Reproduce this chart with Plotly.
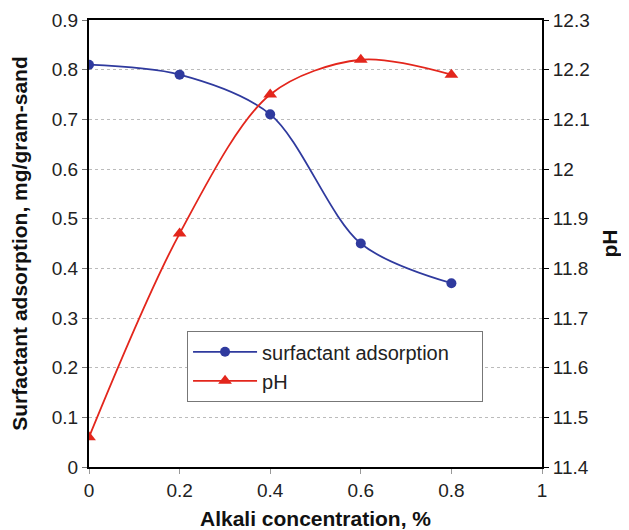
import plotly.graph_objects as go

alkali = [0, 0.2, 0.4, 0.6, 0.8]
adsorption = [0.81, 0.79, 0.71, 0.45, 0.37]
ph = [11.46, 11.87, 12.15, 12.22, 12.19]

blue = "#2f3a9e"
red = "#e3261c"

fig = go.Figure()
fig.add_trace(go.Scatter(
    x=alkali, y=adsorption, name="surfactant adsorption" + "\u00a0" * 5,
    mode="lines+markers", line=dict(color=blue, width=1.8, shape="spline", smoothing=0.9),
    marker=dict(symbol="circle", size=10, color=blue),
))
fig.add_trace(go.Scatter(
    x=alkali, y=ph, name="pH", yaxis="y2",
    mode="lines+markers", line=dict(color=red, width=1.8, shape="spline", smoothing=0.9),
    marker=dict(symbol="triangle-up", size=12, color=red),
))

tickfont = dict(family="Liberation Sans, Arial", size=19, color="#222")
titlefont = dict(family="Liberation Sans, Arial", size=21, color="#111", weight="bold")

fig.update_layout(
    width=621, height=522,
    margin=dict(l=81, r=87, t=12, b=63, autoexpand=False),
    paper_bgcolor="white", plot_bgcolor="white",
    showlegend=True,
    legend=dict(
        x=0.216, y=0.304, xanchor="left", yanchor="top",
        bordercolor="#777", borderwidth=1.2, bgcolor="white",
        font=dict(family="Liberation Sans, Arial", size=20, color="#222"),
        itemwidth=64,
    ),
    xaxis=dict(
        range=[0, 1], dtick=0.2, tickformat="~g", automargin=False,
        showgrid=False, zeroline=False,
        showline=True, linecolor="black", linewidth=2, mirror=True,
        ticks="outside", ticklen=5, tickcolor="#999",
        tickfont=tickfont,
        title=dict(text="Alkali concentration, %", font=titlefont, standoff=18),
    ),
    yaxis=dict(
        range=[0, 0.9], dtick=0.1, tickformat="~g", automargin=False,
        showgrid=True, gridcolor="#bbbbbb", griddash="dot", gridwidth=1,
        zeroline=False,
        showline=True, linecolor="black", linewidth=2,
        ticks="outside", ticklen=5, tickcolor="#777",
        tickfont=tickfont,
        title=dict(text="Surfactant adsorption, mg/gram-sand", font=titlefont, standoff=19),
    ),
    yaxis2=dict(
        range=[11.4, 12.3], dtick=0.1, tickformat="~g", automargin=False,
        overlaying="y", side="right",
        showgrid=False, zeroline=False,
        showline=True, linecolor="black", linewidth=2,
        ticks="outside", ticklen=5, tickcolor="black",
        tickfont=tickfont,
        title=dict(text="pH", font=titlefont, standoff=14),
    ),
)

fig.write_html("out.html")
